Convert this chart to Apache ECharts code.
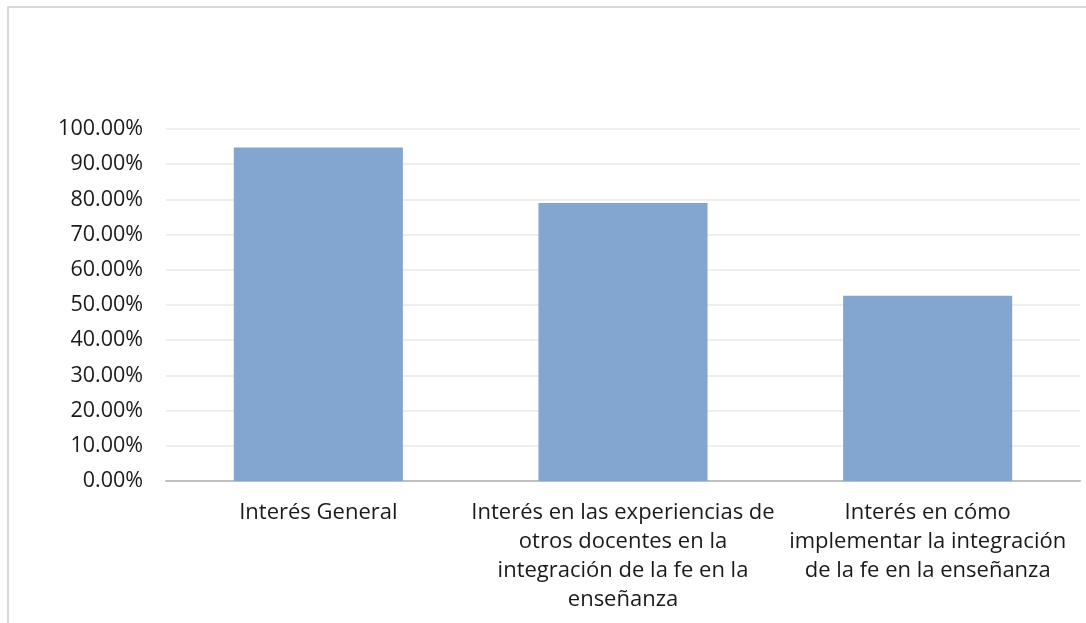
<!DOCTYPE html>
<html>
<head>
<meta charset="utf-8">
<script src="https://cdn.jsdelivr.net/npm/echarts@6/dist/echarts.min.js"></script>
<style>
  html, body { margin: 0; padding: 0; background: #fff; }
  #chart { width: 1086px; height: 623px; }
</style>
</head>
<body>
<div id="chart"></div>
<script>
// categorias del eje x
const categories = [
  'Interés General',
  'Interés en las experiencias de otros docentes en la integración de la fe en la enseñanza',
  'Interés en cómo implementar la integración de la fe en la enseñanza'
];
// como se parte cada etiqueta en lineas (igual que en el original)
const labelLines = [
  ['Interés General'],
  ['Interés en las experiencias de', 'otros docentes en la', 'integración de la fe en la', 'enseñanza'],
  ['Interés en cómo', 'implementar la integración', 'de la fe en la enseñanza']
];
// porcentajes
const values = [94.74, 78.95, 52.63];
const yTicks = [0, 10, 20, 30, 40, 50, 60, 70, 80, 90, 100];

const font = '"Open Sans", sans-serif';

const chart = echarts.init(document.getElementById('chart'));
chart.setOption({
  animation: false,
  graphic: [{
    type: 'rect',
    shape: { x: 8, y: 7, width: 1200, height: 800 },
    style: { fill: 'none', stroke: '#d9d9d9', lineWidth: 2 },
    silent: true
  }],
  grid: { left: 166, right: 6, top: 129, bottom: 142, containLabel: false, outerBoundsMode: 'none' },
  xAxis: {
    type: 'category',
    data: categories,
    axisTick: { show: false },
    axisLine: { lineStyle: { color: '#bfbfbf', width: 2 } },
    axisLabel: {
      color: '#1a1a1a',
      fontFamily: font,
      fontSize: 22,
      lineHeight: 29,
      margin: 17,
      interval: 0,
      formatter: (v, i) => labelLines[i].join('\n')
    }
  },
  yAxis: {
    type: 'value',
    min: yTicks[0],
    max: yTicks[yTicks.length - 1],
    interval: 10,
    axisLine: { show: false },
    axisTick: { show: false },
    splitLine: { lineStyle: { color: '#eeeeee', width: 2 } },
    axisLabel: {
      color: '#1a1a1a',
      fontFamily: font,
      fontSize: 21.5,
      margin: 23,
      formatter: v => v.toFixed(2) + '%'
    }
  },
  series: [{
    type: 'bar',
    data: values,
    barCategoryGap: '44.5%',
    itemStyle: { color: '#82a6d0' }
  }]
});
</script>
</body>
</html>
